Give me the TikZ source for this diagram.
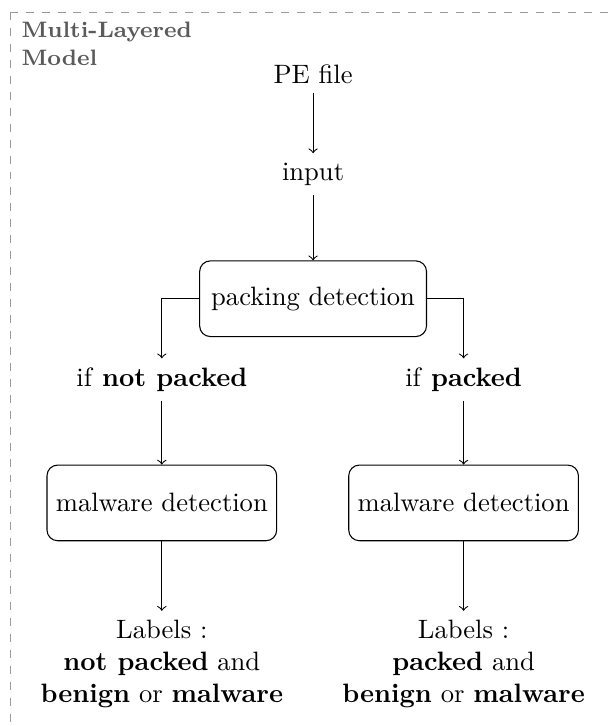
\documentclass[tikz,border=0pt]{standalone}
\usepackage{fontspec}
\usepackage{tikz}
\usetikzlibrary{positioning}
\definecolor{frame-gray}{HTML}{9A9A9A}
\definecolor{title-gray}{HTML}{5A5A5A}

\begin{document}
\begin{tikzpicture}[node distance=1.63cm,
    stage/.style={draw, rounded corners, minimum width=3cm, minimum height=1cm}]
    \useasboundingbox (0,0) rectangle (8.04,-9.60);
    \draw[frame-gray, dashed] (0.145,-0.159) rectangle (8.6,-10.2);
    \node[anchor=north west, inner sep=0pt, align=left, title-gray, font=\fontsize{8.4}{10.5}\selectfont\bfseries] (title) at (0.278,-0.29) {Multi-Layered\\Model};
    \node (pe) at (4.14,-0.98) {PE file};
    \node[below of=pe, node distance=1.32cm] (in) {input};
    \node[stage, below of=in, node distance=1.65cm] (pack) {packing detection};
    \node (notp) at (2.14,-5.02) {if \textbf{not packed}};
    \node (isp) at (6.13,-5.02) {if \textbf{packed}};
    \node[stage, below of=notp] (mdl) {malware detection};
    \node[stage, below of=isp] (mdr) {malware detection};
    \node[below of=mdl, node distance=2.13cm, align=center] (labl) {Labels :\\\textbf{not packed} and\\\textbf{benign} or \textbf{malware}};
    \node[below of=mdr, node distance=2.13cm, align=center] (labr) {Labels :\\\textbf{packed} and\\\textbf{benign} or \textbf{malware}};
    \draw[->] (pe) -- (in); \draw[->] (in) -- (pack);
    \draw[->] (pack.west) -| (notp); \draw[->] (pack.east) -| (isp);
    \draw[->] (notp) -- (mdl); \draw[->] (isp) -- (mdr);
    \draw[->] (mdl) -- (labl); \draw[->] (mdr) -- (labr);
\end{tikzpicture}
\end{document}
